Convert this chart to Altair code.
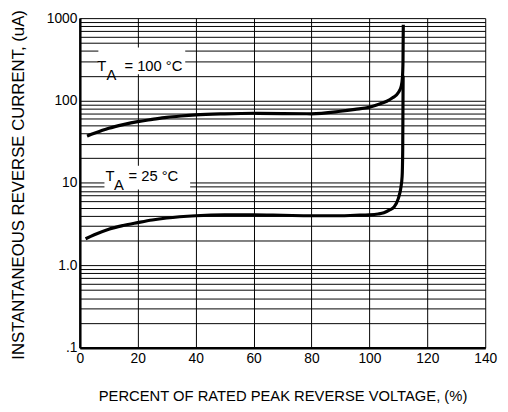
import altair as alt
import pandas as pd

# ---- data ----
x_100 = [2.5, 5, 10, 15, 20, 25, 30, 35, 40, 50, 60, 70, 80, 90, 95, 100, 104, 106, 108, 110, 111, 111.4, 111.6, 111.7]
y_100 = [37, 40, 46, 51, 55.5, 59, 62.5, 65, 67, 69, 70, 69.5, 69, 74, 78, 83, 92, 98, 108, 125, 150, 190, 300, 830]

x_25 = [2, 5, 10, 15, 20, 25, 30, 40, 50, 60, 70, 80, 90, 95, 100, 103, 105, 107, 108.5, 110, 110.8, 111.3, 111.5, 111.65]
y_25 = [2.1, 2.35, 2.75, 3.05, 3.3, 3.55, 3.75, 4.0, 4.1, 4.1, 4.05, 4.0, 4.0, 4.05, 4.1, 4.2, 4.35, 4.7, 5.1, 6.5, 8.5, 12, 25, 200]

x_ticks = [0, 20, 40, 60, 80, 100, 120, 140]
mantissas = [1, 2, 3, 4, 5, 6, 7, 8, 9]
decades = [-1, 0, 1, 2]
y_tick_labels = {0.1: ".1", 1: "1.0", 10: "10", 100: "100", 1000: "1000"}

# label annotations: (text, x, y)
label_text = ["T", "A", "= 100 °C", "T", "A", "= 25 °C"]
label_x = [6.0, 9.2, 15.4, 8.9, 11.8, 16.8]
label_y = [231, 179, 231, 10.5, 8.1, 10.5]

# white backgrounds behind labels
box_x = [6.4, 8.5]
box_x2 = [36.4, 38.1]
box_y = [208, 8.3]
box_y2 = [440, 16.2]

FONT = "Liberation Sans"

y_vals = [round(m * 10 ** e, 6) for e in decades for m in mantissas] + [1000]
label_expr = " : ".join(
    f"datum.value == {k} ? '{v}'" for k, v in y_tick_labels.items()
) + " : ''"

curves = pd.DataFrame({
    "x": x_100 + x_25,
    "y": y_100 + y_25,
    "series": ["100"] * len(x_100) + ["25"] * len(x_25),
    "i": list(range(len(x_100))) + list(range(len(x_25))),
})
labels = pd.DataFrame({"x": label_x, "y": label_y, "t": label_text})
boxes = pd.DataFrame({"x": box_x, "x2": box_x2, "y": box_y, "y2": box_y2})

xs = alt.Scale(domain=[0, 140], nice=False, zero=False)
ys = alt.Scale(type="log", domain=[0.1, 1000], nice=False)

x_axis = alt.Axis(
    values=x_ticks, grid=True, gridColor="black", gridWidth=1, gridOpacity=1,
    domainColor="black", domainWidth=2.5, ticks=False, labelFlush=False,
    labelPadding=4, labelFont=FONT, labelFontSize=14, labelColor="black",
    title="PERCENT OF RATED PEAK REVERSE VOLTAGE, (%)", titleFont=FONT,
    titleFontSize=15, titleFontWeight="normal", titleColor="black",
    titleY=49, titleBaseline="middle",
)
y_axis = alt.Axis(
    values=y_vals, grid=True, gridColor="black", gridWidth=1, gridOpacity=1,
    domainColor="black", domainWidth=2.5, ticks=False, labelFlush=False,
    labelPadding=3, labelFont=FONT, labelFontSize=14, labelColor="black",
    labelExpr=label_expr, labelBaseline="middle",
    title="INSTANTANEOUS REVERSE CURRENT, (uA)", titleFont=FONT,
    titleFontSize=17, titleFontWeight="normal", titleColor="black",
    titleX=-62.5, titleY=169, titleAngle=-90, titleAlign="center",
    titleBaseline="middle",
)

rects = alt.Chart(boxes).mark_rect(color="white").encode(
    x=alt.X("x:Q", scale=xs, axis=x_axis),
    x2="x2:Q",
    y=alt.Y("y:Q", scale=ys, axis=y_axis),
    y2="y2:Q",
)

lines = alt.Chart(curves).mark_line(
    color="black", strokeWidth=3.2, interpolate="monotone"
).encode(
    x=alt.X("x:Q", scale=xs, axis=x_axis),
    y=alt.Y("y:Q", scale=ys, axis=y_axis),
    detail="series:N",
    order="i:Q",
)

texts = alt.Chart(labels).mark_text(
    align="left", baseline="alphabetic", font=FONT, fontSize=15,
    color="black",
).encode(
    x=alt.X("x:Q", scale=xs, axis=x_axis),
    y=alt.Y("y:Q", scale=ys, axis=y_axis),
    text="t:N",
)

chart = alt.layer(rects, lines, texts).properties(
    width=412, height=335,
    autosize=alt.AutoSizeParams(type="none"),
    padding={"left": 73, "top": 7, "right": 15, "bottom": 62},
    background="white",
).configure_view(stroke=None)

chart.save("out.html", embed_options={"renderer": "svg", "actions": False})
